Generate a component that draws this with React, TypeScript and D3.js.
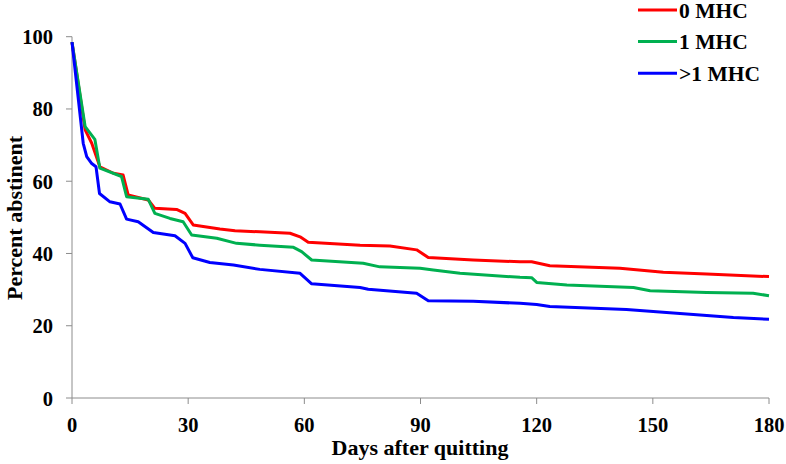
import React from "react";
import * as d3 from "d3";

const xTicks = [0, 30, 60, 90, 120, 150, 180];
const yTicks = [0, 20, 40, 60, 80, 100];

const seriesNames = ["0 MHC", "1 MHC", ">1 MHC"];
const seriesColors = ["#ff0000", "#00b050", "#0000ff"];

const days0 = [0, 3.4, 5.1, 7.2, 10.7, 13.2, 14.5, 19.7, 21.4, 27, 29.2, 31.3, 38.2, 42.1, 48.5, 56.3, 58.9, 61, 74.4, 82.1, 89, 92, 103.6, 115.7, 118.7, 123.4, 141.5, 152.7, 163.9, 180];
const vals0 = [98.5, 74.2, 70.5, 64, 62.2, 61.7, 56.2, 54.8, 52.5, 52.2, 51.1, 47.9, 46.8, 46.3, 46.0, 45.6, 44.6, 43.1, 42.3, 42.1, 41, 38.9, 38.2, 37.7, 37.7, 36.6, 35.9, 34.8, 34.3, 33.6];

const days1 = [0, 3.4, 5.9, 7.2, 12.8, 14.1, 19.7, 21.4, 25.3, 28.7, 30.9, 37.4, 42.5, 48.5, 57.2, 59.3, 61.9, 75.2, 79.5, 89.9, 93.3, 100.2, 115.7, 118.7, 120, 127.8, 145, 149.3, 163.9, 175.9, 180];
const vals1 = [98.5, 75.1, 71.6, 63.6, 61.3, 55.7, 55, 51.1, 49.7, 48.8, 45.1, 44.2, 42.8, 42.3, 41.7, 40.5, 38.2, 37.3, 36.3, 35.9, 35.4, 34.5, 33.4, 33.3, 32.0, 31.3, 30.6, 29.7, 29.2, 29.0, 28.3];

const days2 = [0, 2.9, 3.8, 5.1, 6.2, 7.1, 9.8, 12.4, 14.1, 17.1, 21, 26.6, 29.2, 31.2, 35.6, 41.7, 48.5, 58.9, 61.9, 74.4, 76.5, 89, 92, 103.6, 115.7, 120, 123.4, 143.2, 154.4, 162.2, 170.8, 180];
const vals2 = [98.5, 70.5, 66.8, 64.9, 64, 56.6, 54.3, 53.7, 49.5, 48.8, 45.8, 44.9, 42.8, 38.8, 37.5, 36.8, 35.6, 34.5, 31.6, 30.6, 30.1, 29.0, 26.9, 26.8, 26.2, 25.9, 25.3, 24.5, 23.6, 23.0, 22.3, 21.8];

const seriesDays = [days0, days1, days2];
const seriesVals = [vals0, vals1, vals2];

const W = 786;
const H = 464;
const font = "'Liberation Serif', 'Times New Roman', serif";

export default function App() {
  const x = d3.scaleLinear().domain([0, 180]).range([72, 769]);
  const y = d3.scaleLinear().domain([0, 100]).range([398, 36.7]);
  const line = d3
    .line<[number, number]>()
    .x((d) => x(d[0]))
    .y((d) => y(d[1]));
  const axisColor = "#8c8c8c";

  return (
    <svg
      width={W}
      height={H}
      style={{ position: "absolute", left: 0, top: 0, background: "#fff" }}
      fontFamily={font}
    >
      <rect x={0} y={0} width={W} height={H} fill="#fff" />
      {/* axes */}
      <line x1={x(0)} x2={x(0)} y1={y(100)} y2={y(0)} stroke={axisColor} strokeWidth={1} />
      <line x1={x(0)} x2={x(180)} y1={y(0)} y2={y(0)} stroke={axisColor} strokeWidth={1} />
      {yTicks.map((t) => (
        <g key={"y" + t}>
          <line x1={x(0) - 6} x2={x(0)} y1={y(t)} y2={y(t)} stroke={axisColor} />
          <text
            x={53}
            y={y(t) + 7.5}
            textAnchor="end"
            fontSize={20.5}
            fontWeight="bold"
          >
            {t}
          </text>
        </g>
      ))}
      {xTicks.map((t) => (
        <g key={"x" + t}>
          <line x1={x(t)} x2={x(t)} y1={y(0)} y2={y(0) + 6} stroke={axisColor} />
          <text
            x={x(t)}
            y={431.5}
            textAnchor="middle"
            fontSize={20.5}
            fontWeight="bold"
          >
            {t}
          </text>
        </g>
      ))}
      <text x={420} y={455} textAnchor="middle" fontSize={22} fontWeight="bold">
        Days after quitting
      </text>
      <text
        transform={`translate(21.5,218) rotate(-90)`}
        textAnchor="middle"
        fontSize={22}
        fontWeight="bold"
      >
        Percent abstinent
      </text>
      {/* series */}
      {seriesNames.map((name, i) => {
        const pts = seriesDays[i].map((d, j) => [d, seriesVals[i][j]] as [number, number]);
        return (
          <path
            key={name}
            d={line(pts) || ""}
            fill="none"
            stroke={seriesColors[i]}
            strokeWidth={3}
            strokeLinejoin="round"
          />
        );
      })}
      {/* legend */}
      {seriesNames.map((name, i) => (
        <g key={"lg" + name}>
          <line
            x1={638}
            x2={677}
            y1={10 + i * 31.6}
            y2={10 + i * 31.6}
            stroke={seriesColors[i]}
            strokeWidth={3}
          />
          <text x={679} y={10 + i * 31.6 + 7.5} fontSize={21.5} fontWeight="bold">
            {name}
          </text>
        </g>
      ))}
    </svg>
  );
}
